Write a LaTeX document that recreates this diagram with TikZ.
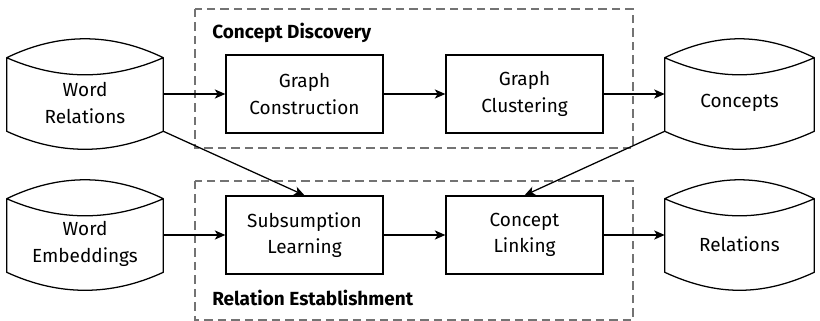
\documentclass[tikz,border=0pt]{standalone}
\usepackage{fontspec}
\setmainfont{Fira Sans}
\usetikzlibrary{arrows.meta}
\tikzset{
  stage/.style={draw=black, line width=0.9pt, minimum width=3.925cm, minimum height=1.95cm,
    align=center, font=\fontsize{13.5}{19}\selectfont},
  store/.style={minimum height=1.4cm, inner sep=0pt,
    align=center, font=\fontsize{13.5}{19}\selectfont},
  storeline/.style={draw=black, line width=0.9pt, line join=round},
  group/.style={draw=black!55, line width=0.75pt, dash pattern=on 6pt off 3.6pt},
  grouptitle/.style={anchor=west, inner sep=0pt, font=\fontsize{13.5}{16}\selectfont\bfseries},
  flow/.style={draw=black, line width=0.9pt, -{Stealth[length=7.5pt, width=6.5pt, inset=2pt]}},
}
% outline of a data store round the node #1
\newcommand{\storeoutline}[1]{%
  \draw[storeline] ([yshift=0.425cm]#1.north west)
    .. controls +(1.3cm,0.63cm) and +(-1.3cm,0.63cm) .. ([yshift=0.425cm]#1.north east)
    .. controls +(-1.3cm,-0.57cm) and +(1.3cm,-0.57cm) .. ([yshift=0.425cm]#1.north west)
    -- (#1.south west)
    .. controls +(1.3cm,-0.6cm) and +(-1.3cm,-0.6cm) .. (#1.south east)
    -- ([yshift=0.425cm]#1.north east);
}

\begin{document}
\begin{tikzpicture}[x=0.025cm, y=0.025cm]
\useasboundingbox (0,0) rectangle (820,321);
% groups
\draw[group] (195,312) rectangle (633,173);
\draw[group] (195,140) rectangle (633,1);
\node[grouptitle] (cdtitle) at (212,288) {Concept Discovery};
\node[grouptitle] (retitle) at (212,23) {Relation Establishment};
% data stores
\node[store, minimum width=3.9cm] (wordrel) at (85,218) {Word\\Relations};
\node[store, minimum width=3.9cm] (wordemb) at (85,77) {Word\\Embeddings};
\node[store, minimum width=3.725cm] (concepts) at (739.5,218) {Concepts};
\node[store, minimum width=3.725cm] (relations) at (739.5,77) {Relations};
\storeoutline{wordrel}
\storeoutline{wordemb}
\storeoutline{concepts}
\storeoutline{relations}
% stages
\node[stage] (graphcon) at (304.5,227) {Graph\\Construction};
\node[stage] (graphclu) at (524.5,227) {Graph\\Clustering};
\node[stage] (subsum) at (304.5,86) {Subsumption\\Learning};
\node[stage] (conlink) at (524.5,86) {Concept\\Linking};
% flows
\draw[flow] (graphcon.west -| wordrel.east) -- (graphcon);
\draw[flow] (graphcon) -- (graphclu);
\draw[flow] (graphclu) -- (graphclu.east -| concepts.west);
\draw[flow] (subsum.west -| wordemb.east) -- (subsum);
\draw[flow] (subsum) -- (conlink);
\draw[flow] (conlink) -- (conlink.east -| relations.west);
\draw[flow] (wordrel.south east) -- (subsum.north);
\draw[flow] (concepts.south west) -- (conlink.north);
\end{tikzpicture}
\end{document}
